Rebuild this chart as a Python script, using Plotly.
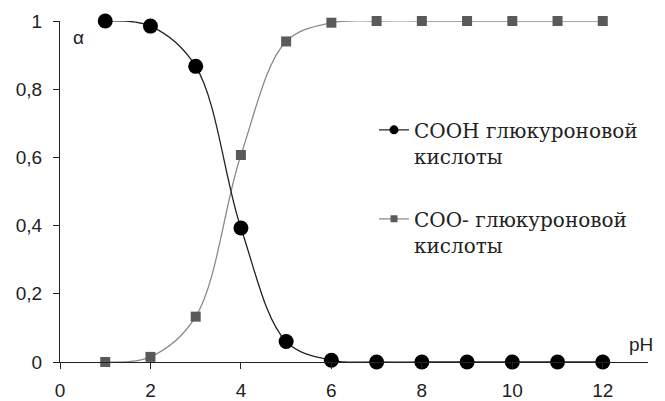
import plotly.graph_objects as go

ph = [1, 2, 3, 4, 5, 6, 7, 8, 9, 10, 11, 12]
cooh = [1.0, 0.985, 0.867, 0.393, 0.06, 0.005, 0.0, 0.0, 0.0, 0.0, 0.0, 0.0]
coo_minus = [0.0, 0.015, 0.133, 0.607, 0.94, 0.995, 1.0, 1.0, 1.0, 1.0, 1.0, 1.0]
name_cooh = "СООН глюкуроновой<br>кислоты"
name_coo = "СОО- глюкуроновой<br>кислоты"
xticks = [0, 2, 4, 6, 8, 10, 12]
yticks = [0, 0.2, 0.4, 0.6, 0.8, 1]
ytext = ["0", "0,2", "0,4", "0,6", "0,8", "1"]

SERIF = "DejaVu Serif"
SANS = "Liberation Sans"

fig = go.Figure()
fig.add_trace(go.Scatter(x=ph, y=coo_minus, mode="lines+markers", showlegend=False,
                         line=dict(color="#8a8a8a", width=1.3, shape="spline", smoothing=1.0),
                         marker=dict(symbol="square", size=10, color="#5a5a5a"),
                         cliponaxis=False))
fig.add_trace(go.Scatter(x=ph, y=cooh, mode="lines+markers", showlegend=False,
                         line=dict(color="#222222", width=1.3, shape="spline", smoothing=1.0),
                         marker=dict(symbol="circle", size=15, color="#000000"),
                         cliponaxis=False))
# legend entries
fig.add_trace(go.Scatter(x=[None], y=[None], mode="lines+markers", name=name_cooh,
                         legendgroup="a",
                         line=dict(color="#222222", width=1.3),
                         marker=dict(symbol="circle", size=9, color="#000000")))
fig.add_trace(go.Scatter(x=[None], y=[None], mode="lines+markers", name=name_coo,
                         legendgroup="b",
                         line=dict(color="#8a8a8a", width=1.3),
                         marker=dict(symbol="square", size=7, color="#5a5a5a")))

fig.update_layout(
    width=665, height=401,
    margin=dict(l=60, r=17, t=21, b=39, autoexpand=False),
    paper_bgcolor="white", plot_bgcolor="white",
    font=dict(family=SANS, size=19, color="#222222"),
    legend=dict(x=0.534, y=0.738, xanchor="left", yanchor="top",
                font=dict(family=SERIF, size=20, color="#222222"),
                valign="top", traceorder="grouped", tracegroupgap=34,
                bgcolor="rgba(0,0,0,0)"),
    xaxis=dict(range=[0, 13.0], tickvals=xticks, ticks="outside", ticklen=6,
               tickcolor="#222", showline=True, linecolor="#222", linewidth=1,
               showgrid=False, zeroline=False, automargin=False, ticklabelstandoff=5),
    yaxis=dict(range=[0, 1], tickvals=yticks, ticktext=ytext, ticks="outside", ticklen=6,
               tickcolor="#222", showline=True, linecolor="#222", linewidth=1,
               showgrid=False, zeroline=False, automargin=False, ticklabelstandoff=7),
    annotations=[
        dict(x=0.4, y=0.953, xref="x", yref="y", text="α", showarrow=False,
             font=dict(size=19)),
        dict(x=12.85, y=0.05, xref="x", yref="y", text="pH", showarrow=False,
             font=dict(size=19)),
    ],
)
fig.write_html("out.html")
